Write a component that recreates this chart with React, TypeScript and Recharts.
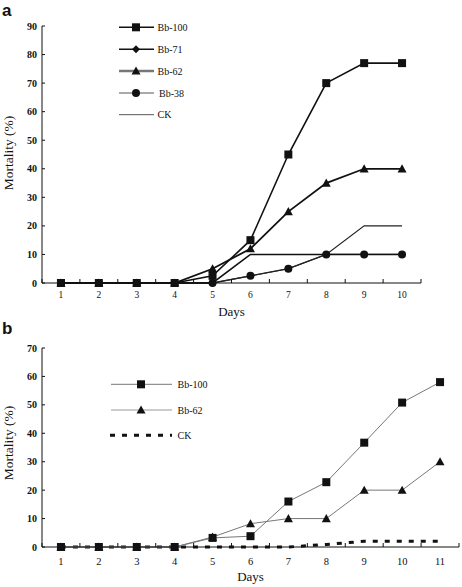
import React from "react";
import { LineChart, Line, XAxis, YAxis } from "recharts";

// panel a
const daysA = [1, 2, 3, 4, 5, 6, 7, 8, 9, 10];
const bb100A = [0, 0, 0, 0, 2.5, 15, 45, 70, 77, 77];
const bb71A = [0, 0, 0, 0, 0, 10, 10, 10, 10, 10];
const bb62A = [0, 0, 0, 0, 5, 12, 25, 35, 40, 40];
const bb38A = [0, 0, 0, 0, 0, 2.5, 5, 10, 10, 10];
const ckA = [0, 0, 0, 0, 0, 2.5, 5, 10, 20, 20];
const yTicksA = [0, 10, 20, 30, 40, 50, 60, 70, 80, 90];

// panel b
const daysB = [1, 2, 3, 4, 5, 6, 7, 8, 9, 10, 11];
const bb100B = [0, 0, 0, 0, 3.2, 3.8, 16, 22.8, 36.7, 50.8, 58];
const bb62B = [0, 0, 0, 0, 3.5, 8.2, 10, 10, 20, 20, 30];
const ckB = [0, 0, 0, 0, 0, 0, 0, 0.9, 2, 2, 2];
const yTicksB = [0, 10, 20, 30, 40, 50, 60, 70];

const dataA = daysA.map((day, i) => ({
  day,
  bb100: bb100A[i],
  bb71: bb71A[i],
  bb62: bb62A[i],
  bb38: bb38A[i],
  ck: ckA[i],
}));

const dataB = daysB.map((day, i) => ({
  day,
  bb100: bb100B[i],
  bb62: bb62B[i],
  ck: ckB[i],
}));

// tick marks sit between the days, labels sit on the days
const edges = (days: number[]) => [days[0] - 0.5, ...days.map((d) => d + 0.5)];

const W = 462;
const Y_AXIS_W = 42;
const halfBandA = (W - Y_AXIS_W - 41) / daysA.length / 2;
const halfBandB = (W - Y_AXIS_W - 3) / daysB.length / 2;

const SERIF = "'Liberation Serif', 'Times New Roman', serif";
const INK = "#111";

type Shape = "square" | "diamond" | "triangle" | "circle";

function Marker({ cx, cy, shape, size }: { cx: number; cy: number; shape: Shape; size: number }) {
  const h = size / 2;
  if (shape === "square") return <rect x={cx - h} y={cy - h} width={size} height={size} fill={INK} />;
  if (shape === "circle") return <circle cx={cx} cy={cy} r={h} fill={INK} />;
  if (shape === "diamond")
    return <polygon points={`${cx},${cy - h} ${cx + h},${cy} ${cx},${cy + h} ${cx - h},${cy}`} fill={INK} />;
  return <polygon points={`${cx},${cy - h} ${cx + h},${cy + h * 0.8} ${cx - h},${cy + h * 0.8}`} fill={INK} />;
}

const makeDot = (shape: Shape, size: number, lastDay = 99) => (props: any) => {
  const { cx, cy, index, payload } = props;
  if (cx == null || cy == null || payload.day > lastDay) return <g key={`d${index}`} />;
  return (
    <g key={`d${index}`}>
      <Marker cx={cx} cy={cy} shape={shape} size={size} />
    </g>
  );
};

const makeDayTick = (half: number, fontSize: number, baseline: number) => (props: any) => {
  const { x, payload } = props;
  const day = payload.value - 0.5;
  if (day < 1) return <g />;
  return (
    <text x={x - half} y={baseline} textAnchor="middle" fontFamily={SERIF} fontSize={fontSize} fill={INK}>
      {day}
    </text>
  );
};

const tickY = { fontFamily: SERIF, fontSize: 10, fontWeight: 700, fill: INK };

function LegendRow({
  y, x1, x2, mx, tx, label, shape, stroke, width, dash,
}: {
  y: number; x1: number; x2: number; mx: number; tx: number; label: string;
  shape?: Shape; stroke: string; width: number; dash?: string;
}) {
  return (
    <g>
      <line x1={x1} x2={x2} y1={y} y2={y} stroke={stroke} strokeWidth={width} strokeDasharray={dash} />
      {shape && <Marker cx={mx} cy={y} shape={shape} size={shape === "triangle" ? 9 : 8} />}
      <text x={tx} y={y + 3.5} fontFamily={SERIF} fontSize={10} fill={INK}>
        {label}
      </text>
    </g>
  );
}

function YTitle({ cy }: { cy: number }) {
  return (
    <text
      transform={`translate(12.5, ${cy}) rotate(-90)`}
      textAnchor="middle"
      fontFamily={SERIF}
      fontSize={13.5}
      fill={INK}
    >
      Mortality (%)
    </text>
  );
}

const panelLabel: React.CSSProperties = {
  position: "absolute",
  left: 2,
  fontFamily: "'Liberation Sans', Arial, sans-serif",
  fontWeight: 700,
  fontSize: 17,
  lineHeight: "17px",
  color: INK,
};

export default function App() {
  return (
    <div style={{ position: "relative", width: W, height: 587, background: "#fff" }}>
      <style>{"body{margin:0}"}</style>

      <div style={{ ...panelLabel, top: 2 }}>a</div>
      <div style={{ position: "absolute", left: 0, top: 0 }}>
        <LineChart width={W} height={320} data={dataA} margin={{ top: 26, right: 41, left: 0, bottom: 0 }}>
          <XAxis
            type="number"
            dataKey="day"
            domain={[0.5, 10.5]}
            ticks={edges(daysA)}
            allowDataOverflow
            interval={0}
            tickSize={-4}
            stroke={INK}
            height={37}
            tick={makeDayTick(halfBandA, 9.5, 298)}
            label={{ value: "Days", position: "insideBottom", offset: 4, fontFamily: SERIF, fontSize: 13, fill: INK }}
          />
          <YAxis
            type="number"
            domain={[0, 90]}
            ticks={yTicksA}
            width={Y_AXIS_W}
            stroke={INK}
            tickSize={-3}
            tickMargin={8}
            tick={tickY}
          />
          <Line dataKey="ck" stroke="#222" strokeWidth={1.1} dot={false} isAnimationActive={false} />
          <Line dataKey="bb38" stroke="#222" strokeWidth={1.3} dot={makeDot("circle", 8)} isAnimationActive={false} />
          <Line dataKey="bb71" stroke="#111" strokeWidth={1.6} dot={makeDot("diamond", 8, 5)} isAnimationActive={false} />
          <Line dataKey="bb62" stroke="#111" strokeWidth={1.8} dot={makeDot("triangle", 9)} isAnimationActive={false} />
          <Line dataKey="bb100" stroke="#111" strokeWidth={1.6} dot={makeDot("square", 8)} isAnimationActive={false} />
        </LineChart>
      </div>

      <div style={{ ...panelLabel, top: 320 }}>b</div>
      <div style={{ position: "absolute", left: 0, top: 320 }}>
        <LineChart width={W} height={267} data={dataB} margin={{ top: 28, right: 3, left: 0, bottom: 0 }}>
          <XAxis
            type="number"
            dataKey="day"
            domain={[0.5, 11.5]}
            ticks={edges(daysB)}
            allowDataOverflow
            interval={0}
            tickSize={-4}
            stroke={INK}
            height={40}
            tick={makeDayTick(halfBandB, 10.5, 245)}
            label={{ value: "Days", position: "insideBottom", offset: 6, fontFamily: SERIF, fontSize: 13, fill: INK }}
          />
          <YAxis
            type="number"
            domain={[0, 70]}
            ticks={yTicksB}
            width={Y_AXIS_W}
            stroke={INK}
            tickSize={-3}
            tickMargin={8}
            tick={tickY}
          />
          <Line dataKey="ck" stroke={INK} strokeWidth={3} strokeDasharray="5 7" dot={false} isAnimationActive={false} />
          <Line dataKey="bb62" stroke="#777" strokeWidth={1} dot={makeDot("triangle", 9)} isAnimationActive={false} />
          <Line dataKey="bb100" stroke="#777" strokeWidth={1} dot={makeDot("square", 8)} isAnimationActive={false} />
        </LineChart>
      </div>

      {/* legends and y titles drawn over both panels */}
      <svg style={{ position: "absolute", left: 0, top: 0, pointerEvents: "none" }} width={W} height={587}>
        <YTitle cy={153} />
        <YTitle cy={443} />
        <LegendRow y={27.3} x1={119} x2={154} mx={136} tx={157.5} label="Bb-100" shape="square" stroke="#111" width={1.5} />
        <LegendRow y={49.3} x1={119} x2={154} mx={136} tx={157.5} label="Bb-71" shape="diamond" stroke="#111" width={1.5} />
        <LegendRow y={71} x1={119} x2={154} mx={136} tx={157.5} label="Bb-62" shape="triangle" stroke="#777" width={2.4} />
        <LegendRow y={93} x1={119} x2={154} mx={136} tx={159} label="Bb-38" shape="circle" stroke="#555" width={1} />
        <LegendRow y={114.7} x1={119} x2={154} mx={136} tx={157.5} label="CK" stroke="#555" width={1} />
        <LegendRow y={384.3} x1={111} x2={172} mx={141} tx={177.5} label="Bb-100" shape="square" stroke="#777" width={1} />
        <LegendRow y={410} x1={111} x2={172} mx={141} tx={177.5} label="Bb-62" shape="triangle" stroke="#999" width={1} />
        <LegendRow y={435.3} x1={110} x2={172} mx={141} tx={177.5} label="CK" stroke={INK} width={3} dash="5 7" />
      </svg>
    </div>
  );
}
